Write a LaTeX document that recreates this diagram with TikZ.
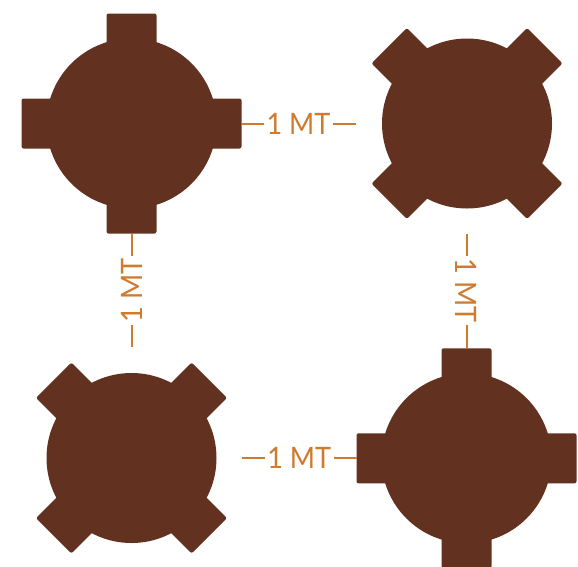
\documentclass[tikz,border=0pt]{standalone}
\usepackage{fontspec}
\setmainfont{Lato}
\newfontfamily\dimfont[FakeStretch=0.92]{Lato}
\usetikzlibrary{calc}
\definecolor{valvebrown}{RGB}{98,49,32}
\definecolor{dimorange}{RGB}{207,122,45}
\tikzset{
  valve/.style={fill=valvebrown},
  dimline/.style={draw=dimorange,line width=2pt},
  dimlbl/.style={fill=white,text=dimorange,font=\dimfont\fontsize{29.5}{31}\selectfont,inner xsep=2.5pt,inner ysep=0pt},
  pics/valvepart/.style={code={
    \fill[valve] (0,0) circle[radius=85pt];
    \foreach \a in {0,90,180,270}
      \fill[valve,rounded corners=2pt,rotate=\a+#1] (-25,60) rectangle (25,110);
  }}
}
\begin{document}
\begin{tikzpicture}[x=1pt,y=-1pt]
\useasboundingbox (0,0) rectangle (578,566);
\coordinate (tl) at (131.5,123.5);
\coordinate (tr) at (467,123.5);
\coordinate (bl) at (131.5,458);
\coordinate (br) at (466.5,458.3);
\pic at (tl) {valvepart=0};
\pic at (tr) {valvepart=45};
\pic at (bl) {valvepart=45};
\pic at (br) {valvepart=0};
% connector ends
\coordinate (topA) at ($(tl)+(110,0)$);
\coordinate (topB) at (355.5,123.5);
\coordinate (leftA) at ($(tl)+(0,110)$);
\coordinate (leftB) at (131.5,347);
\coordinate (rightA) at (466.5,233.5);
\coordinate (rightB) at ($(br)+(0,-110)$);
\coordinate (botA) at (242,458.3);
\coordinate (botB) at ($(br)+(-110,0)$);
\draw[dimline] (topA) -- node[dimlbl] (lt) {1 MT} (topB);
\draw[dimline] (leftA) -- node[dimlbl,rotate=90] (ll) {1 MT} (leftB);
\draw[dimline] (rightA) -- node[dimlbl,rotate=-90] (lr) {1 MT} (rightB);
\draw[dimline] (botA) -- node[dimlbl] (lb) {1 MT} (botB);
\end{tikzpicture}
\end{document}
